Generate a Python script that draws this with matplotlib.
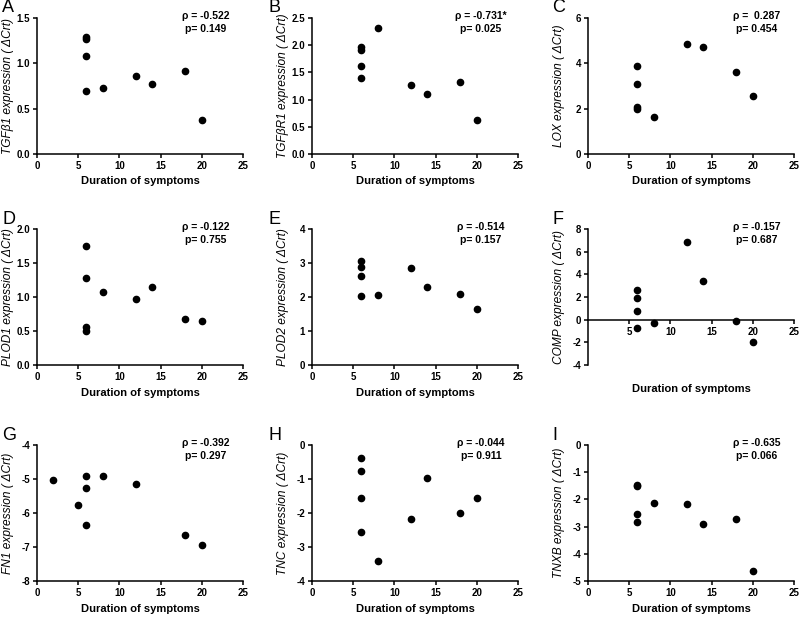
import matplotlib
matplotlib.use("Agg")
import matplotlib.pyplot as plt

plt.rcParams['font.family'] = ['Liberation Sans', 'DejaVu Sans']

# duration of symptoms (x) and expression values (y) for each panel
x_a = [6, 6, 6, 6, 8, 12, 14, 18, 20]
y_a = [1.29, 1.27, 1.08, 0.70, 0.73, 0.86, 0.77, 0.91, 0.37]
x_b = [6, 6, 6, 6, 8, 12, 14, 18, 20]
y_b = [1.96, 1.92, 1.62, 1.39, 2.31, 1.27, 1.11, 1.32, 0.62]
x_c = [6, 6, 6, 6, 8, 12, 14, 18, 20]
y_c = [3.90, 3.10, 2.06, 1.98, 1.65, 4.85, 4.72, 3.62, 2.55]
x_d = [6, 6, 6, 6, 8, 12, 14, 18, 20]
y_d = [1.75, 1.28, 0.56, 0.50, 1.07, 0.97, 1.15, 0.67, 0.64]
x_e = [6, 6, 6, 6, 8, 12, 14, 18, 20]
y_e = [3.05, 2.87, 2.63, 2.03, 2.05, 2.86, 2.28, 2.10, 1.64]
x_f = [6, 6, 6, 6, 8, 12, 14, 18, 20]
y_f = [2.60, 1.90, 0.75, -0.70, -0.30, 6.85, 3.45, -0.10, -1.95]
x_g = [2, 5, 6, 6, 6, 8, 12, 18, 20]
y_g = [-5.03, -5.75, -4.90, -5.25, -6.35, -4.92, -5.15, -6.65, -6.93]
x_h = [6, 6, 6, 6, 8, 12, 14, 18, 20]
y_h = [-0.37, -0.75, -1.55, -2.55, -3.42, -2.18, -0.97, -2.00, -1.55]
x_i = [6, 6, 6, 6, 8, 12, 14, 18, 20]
y_i = [-1.48, -1.52, -2.52, -2.82, -2.15, -2.18, -2.92, -2.72, -4.65]

letters = ["A", "B", "C", "D", "E", "F", "G", "H", "I"]
genes = ["TGF\u03b21", "TGF\u03b2R1", "LOX", "PLOD1", "PLOD2", "COMP", "FN1", "TNC", "TNXB"]
rhos = ["-0.522", "-0.731*", " 0.287", "-0.122", "-0.514", "-0.157", "-0.392", "-0.044", "-0.635"]
pvals = ["0.149", "0.025", "0.454", "0.755", "0.157", "0.687", "0.297", "0.911", "0.066"]
xs = [x_a, x_b, x_c, x_d, x_e, x_f, x_g, x_h, x_i]
ys = [y_a, y_b, y_c, y_d, y_e, y_f, y_g, y_h, y_i]
yticks = [
    [0.0, 0.5, 1.0, 1.5],
    [0.0, 0.5, 1.0, 1.5, 2.0, 2.5],
    [0, 2, 4, 6],
    [0.0, 0.5, 1.0, 1.5, 2.0],
    [0, 1, 2, 3, 4],
    [-4, -2, 0, 2, 4, 6, 8],
    [-8, -7, -6, -5, -4],
    [-4, -3, -2, -1, 0],
    [-5, -4, -3, -2, -1, 0],
]
ytick_fmt = ["%.1f", "%.1f", "%d", "%.1f", "%d", "%d", "%d", "%d", "%d"]
xticks = [0, 5, 10, 15, 20, 25]

W, H = 800, 617
fig = plt.figure(figsize=(8, 6.17), dpi=100)

col_left = [37, 312, 588]
row_top = [18, 229, 445]
letter_shift = [35, 44, 36]
ax_w, ax_h = 206, 136

for k in range(9):
    r, c = divmod(k, 3)
    left, top = col_left[c], row_top[r]
    ax = fig.add_axes([left / W, 1 - (top + ax_h) / H, ax_w / W, ax_h / H])
    ax.plot(xs[k], ys[k], "o", color="black", ms=4.5, mec="black")
    ax.set_xlim(0, 25)
    ax.set_ylim(yticks[k][0], yticks[k][-1])
    ax.set_yticks(yticks[k])
    ax.set_yticklabels([ytick_fmt[k] % v for v in yticks[k]])
    for side in ("top", "right"):
        ax.spines[side].set_visible(False)
    for side in ("left", "bottom"):
        ax.spines[side].set_linewidth(1.1)
    if letters[k] == "F":
        # x axis drawn through zero
        ax.spines["bottom"].set_position(("data", 0))
        ax.set_xticks(xticks[1:])
        ax.set_xlabel("Duration of symptoms", fontsize=8, fontweight="bold")
        ax.xaxis.set_label_coords(0.5, -0.14)
    else:
        ax.set_xticks(xticks)
        ax.set_xlabel("Duration of symptoms", fontsize=8, fontweight="bold", labelpad=4)
    ax.tick_params(direction="out", length=3, width=1.1, labelsize=7, pad=2)
    for lab in ax.get_xticklabels() + ax.get_yticklabels():
        lab.set_fontweight("bold")
    ax.set_ylabel(genes[k] + " expression ( \u0394Crt)", fontsize=8.6, fontstyle="italic")
    ax.yaxis.set_label_coords(-0.11, 0.5)
    ax.text(0.82, 1.05, "\u03c1 = " + rhos[k] + "\np= " + pvals[k], transform=ax.transAxes,
            ha="center", va="top", fontsize=7.5, fontweight="bold", linespacing=1.3)
    fig.text((left - letter_shift[c]) / W, 1 - (top - 10) / H, letters[k],
             fontsize=13, va="center", ha="left")

fig.savefig("out.png", dpi=100)
